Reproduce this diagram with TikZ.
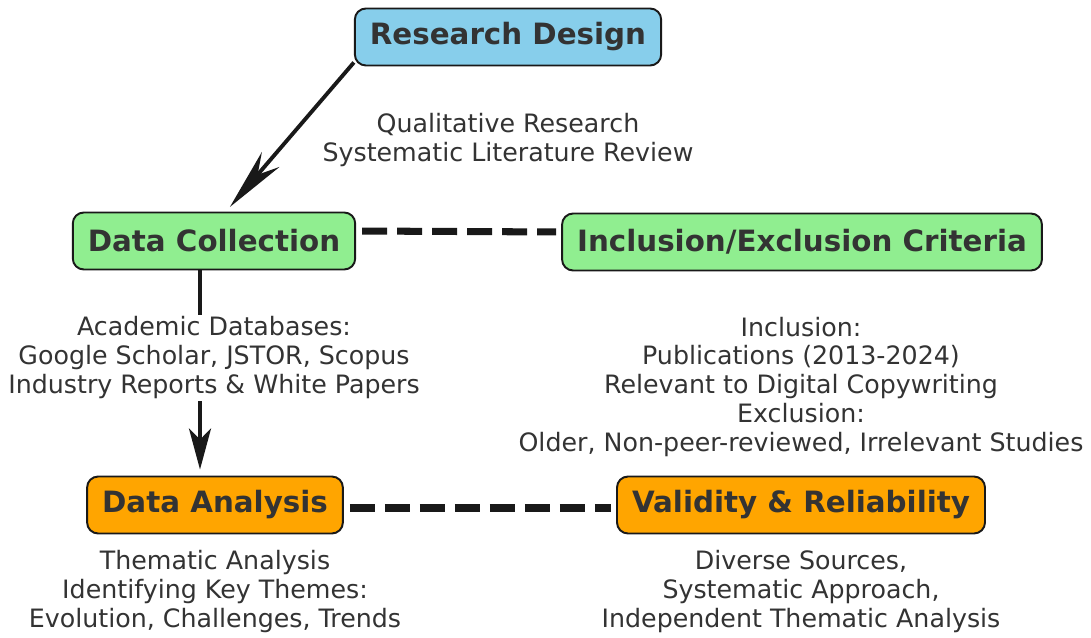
\documentclass[tikz,border=0pt]{standalone}
\usepackage{fontspec}
\setmainfont{DejaVu Sans}
\usepackage{xcolor}
\usetikzlibrary{arrows.meta}
\definecolor{designblue}{RGB}{135,206,235}
\definecolor{collectgreen}{RGB}{144,238,144}
\definecolor{analysisorange}{RGB}{255,165,0}
\definecolor{textgray}{RGB}{51,51,51}
\definecolor{edgeblack}{RGB}{25,25,25}

\tikzset{
  stage/.style={draw=edgeblack, line width=1.1pt, rounded corners=0.22cm,
    minimum height=1.14cm, inner xsep=0.3cm, text=textgray,
    font=\fontsize{16.7}{19}\selectfont\bfseries},
  note/.style={fill=white, inner sep=1pt, align=center, text=textgray,
    font=\fontsize{14.4}{16.5}\selectfont},
  flow/.style={line width=2.2pt, edgeblack},
  link/.style={line width=4pt, edgeblack, dash pattern=on 0.5cm off 0.2cm,
    shorten <=0.12cm, shorten >=0.1cm}
}

\begin{document}
\begin{tikzpicture}[x=0.02cm, y=-0.02cm]
\useasboundingbox (0,0) rectangle (1091,638);

% Stages
\node[stage, fill=designblue] (design) at (508,37) {Research Design};
\node[stage, fill=collectgreen] (collect) at (214,241) {Data Collection};
\node[stage, fill=collectgreen] (criteria) at (802,242) {Inclusion/Exclusion Criteria};
\node[stage, fill=analysisorange] (analysis) at (215,505) {Data Analysis};
\node[stage, fill=analysisorange] (validity) at (801,505) {Validity \& Reliability};

% Flow between stages
\draw[flow, -{Stealth[length=1.25cm, width=0.46cm, inset=0.4cm]}, shorten >=0.12cm]
  ([yshift=0.08cm]design.south west) -- ([xshift=0.24cm]collect.north);
\draw[flow, -{Stealth[length=0.82cm, width=0.44cm, inset=0.22cm]}, shorten >=0.12cm]
  ([xshift=-0.28cm]collect.south) -- ([xshift=-0.3cm]analysis.north);

% Dashed links
\draw[link] ([yshift=0.2cm]collect.east) -- ([yshift=0.2cm]criteria.west);
\draw[link] ([yshift=-0.06cm]analysis.east) -- ([yshift=-0.06cm]validity.west);

% Notes
\node[note] (method) at (508,140) {Qualitative Research\\Systematic Literature Review};
\node[note] (sources) at (214,358) {Academic Databases:\\Google Scholar, JSTOR, Scopus\\Industry Reports \& White Papers};
\node[note] (rules) at (801,387) {Inclusion:\\Publications (2013-2024)\\Relevant to Digital Copywriting\\Exclusion:\\Older, Non-peer-reviewed, Irrelevant Studies};
\node[note] (themes) at (215,592) {Thematic Analysis\\Identifying Key Themes:\\Evolution, Challenges, Trends};
\node[note] (checks) at (801,592) {Diverse Sources,\\Systematic Approach,\\Independent Thematic Analysis};
\end{tikzpicture}
\end{document}
